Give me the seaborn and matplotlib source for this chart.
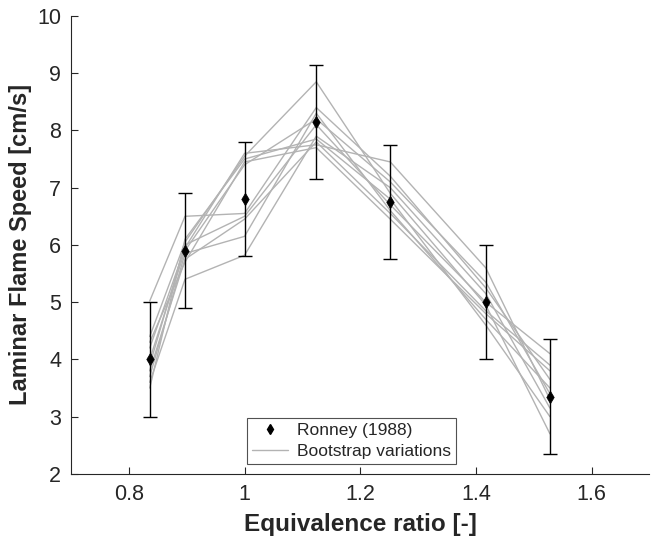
import numpy as np
import pandas as pd
import matplotlib
matplotlib.use("Agg")
import matplotlib.pyplot as plt
import seaborn as sns
from matplotlib.lines import Line2D

# ------------ data ------------
phi = [0.836, 0.897, 1.0, 1.124, 1.252, 1.417, 1.528]
ronney = [4.0, 5.9, 6.8, 8.15, 6.75, 5.0, 3.35]
ronney_err = [1.0, 1.0, 1.0, 1.0, 1.0, 1.0, 1.0]

boot1 = [5.02, 6.50, 6.55, 8.40, 7.20, 5.25, 3.65]
boot2 = [4.40, 6.05, 7.55, 8.85, 6.90, 4.95, 2.70]
boot3 = [4.20, 5.95, 7.60, 7.75, 7.45, 5.60, 3.30]
boot4 = [3.90, 6.00, 6.50, 8.10, 6.70, 5.00, 4.10]
boot5 = [3.70, 5.85, 6.15, 8.30, 6.60, 4.70, 3.50]
boot6 = [3.60, 5.40, 5.82, 7.90, 7.00, 5.15, 3.15]
boot7 = [4.30, 5.70, 7.45, 7.70, 6.45, 4.80, 3.80]
boot8 = [3.50, 6.10, 7.50, 7.85, 6.80, 4.60, 3.00]
boot9 = [4.00, 5.90, 7.40, 8.20, 7.10, 5.35, 3.40]
boot10 = [3.80, 5.75, 6.45, 7.80, 6.55, 4.85, 3.90]
boots = [boot1, boot2, boot3, boot4, boot5, boot6, boot7, boot8, boot9, boot10]

rows = []
for i, b in enumerate(boots):
    for p, v in zip(phi, b):
        rows.append({"phi": p, "speed": v, "run": i})
df = pd.DataFrame(rows)

# ------------ plot ------------
sns.set_style("ticks")
plt.rcParams['font.family'] = ['Liberation Sans', 'DejaVu Sans']

fig = plt.figure(figsize=(6.52, 5.51), dpi=100)
ax = fig.add_axes([0.109, 0.140, 0.887, 0.831])

sns.lineplot(data=df, x="phi", y="speed", units="run", estimator=None,
             color="#b3b3b3", linewidth=1.0, ax=ax, legend=False)

ax.errorbar(phi, ronney, yerr=ronney_err, fmt="none", ecolor="black",
            elinewidth=1.0, capsize=5, capthick=1.0, zorder=3)
sns.scatterplot(x=phi, y=ronney, marker="d", color="black", s=40,
                edgecolor="black", ax=ax, zorder=4, legend=False)

ax.set_xlim(0.7, 1.7)
ax.set_ylim(2, 10)
ax.set_xticks([0.8, 1.0, 1.2, 1.4, 1.6])
ax.set_xticklabels(["0.8", "1", "1.2", "1.4", "1.6"])
ax.set_yticks(range(2, 11))
ax.tick_params(direction="in", labelsize=15.5, colors="#262626", length=5, pad=7)
for s in ["left", "bottom"]:
    ax.spines[s].set_color("#262626")
sns.despine(ax=ax)

ax.set_xlabel("Equivalence ratio [-]", fontsize=17.5, fontweight="bold", labelpad=6)
ax.set_ylabel("Laminar Flame Speed [cm/s]", fontsize=17, fontweight="bold", labelpad=4)

handles = [Line2D([], [], marker="d", color="black", linestyle="none", markersize=5),
           Line2D([], [], color="#b3b3b3", linewidth=1.0)]
leg = ax.legend(handles, ["Ronney (1988)", "Bootstrap variations"], loc="lower center",
                bbox_to_anchor=(0.485, 0.022), fontsize=12.5, frameon=True, fancybox=False,
                edgecolor="#262626", handlelength=2.1, handletextpad=0.5,
                borderpad=0.3, labelspacing=0.3, borderaxespad=0)
leg.get_frame().set_linewidth(0.8)

fig.savefig("out.png", dpi=100)
